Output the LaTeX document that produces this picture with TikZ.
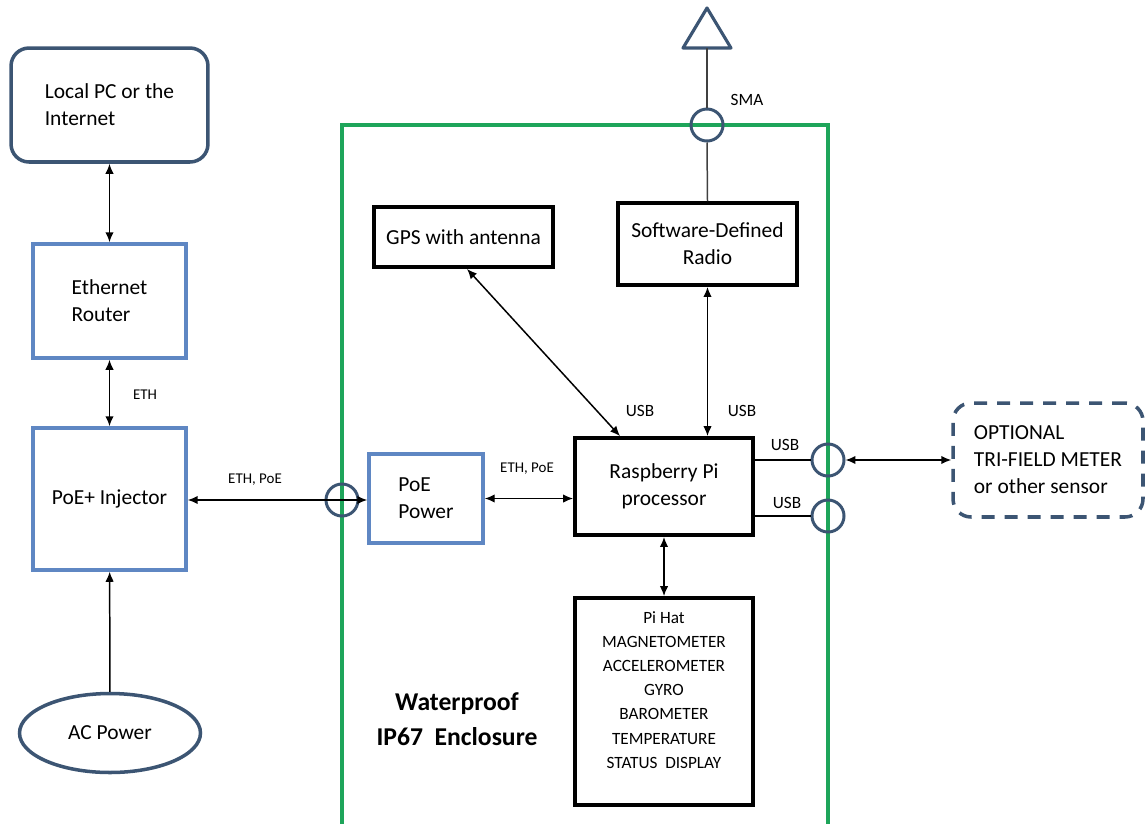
\documentclass[tikz,border=0pt]{standalone}
\usepackage{fontspec}
\setmainfont{Carlito}
\usetikzlibrary{arrows.meta,shapes.geometric}
\definecolor{encgreen}{RGB}{30,165,90}
\definecolor{boxblue}{RGB}{95,135,195}
\definecolor{portslate}{RGB}{60,85,115}

\begin{document}
\begin{tikzpicture}[x=0.02cm,y=-0.02cm,
  mainfont/.style={font=\fontsize{12.2}{15.4}\selectfont},
  bluebox/.style={draw=boxblue,line width=2pt,mainfont,align=left},
  blackbox/.style={draw=black,line width=2.2pt,mainfont,align=center},
  slatebox/.style={draw=portslate,line width=2pt,rounded corners=0.36cm,mainfont,align=left},
  port/.style={circle,draw=portslate,line width=1.7pt,minimum size=0.64cm,inner sep=0pt},
  dbl/.style={{Latex[length=2mm,width=1.7mm]}-{Latex[length=2mm,width=1.7mm]},line width=0.85pt},
  sgl/.style={-{Latex[length=2mm,width=1.7mm]},line width=0.85pt},
  ethtag/.style={font=\fontsize{8.5}{10}\selectfont},
  usbtag/.style={font=\fontsize{9.8}{12}\selectfont}]
  \useasboundingbox (0,0) rectangle (1146,823);

  % enclosure
  \draw[encgreen,line width=2.2pt] (342,840) -- (342,125) -- (828,125) -- (828,840);
  \node[font=\bfseries\fontsize{14.6}{20}\selectfont,align=center] (enclname) at (457,719) {Waterproof\\IP67\ \ Enclosure};

  % outside
  \node[slatebox,minimum width=3.94cm,minimum height=2.28cm] (pc) at (109.5,105) {Local PC or the\\Internet};
  \node[bluebox,minimum width=3.06cm,minimum height=2.28cm] (router) at (109.5,301) {Ethernet\\Router};
  \node[bluebox,minimum width=3.06cm,minimum height=2.84cm] (inj) at (109.5,499) {PoE+ Injector};
  \node[ellipse,draw=portslate,line width=2pt,mainfont,minimum width=3.62cm,minimum height=1.58cm] (ac) at (110,733) {AC Power};
  \node[slatebox,dash pattern=on 0.26cm off 0.2cm,minimum width=3.8cm,minimum height=2.28cm] (opt) at (1048,460) {OPTIONAL\\TRI-FIELD METER\\or other sensor};

  % inside
  \node[bluebox,minimum width=2.28cm,minimum height=1.78cm] (poe) at (426,498.5) {PoE\\Power};
  \node[blackbox,minimum width=3.58cm,minimum height=1.2cm] (gps) at (463.5,237) {GPS with antenna};
  \node[blackbox,minimum width=3.58cm,minimum height=1.64cm] (sdr) at (707.5,244) {Software-Defined\\Radio};
  \node[blackbox,minimum width=3.56cm,minimum height=1.94cm] (rpi) at (664,486.5) {Raspberry Pi\\processor};
  \node[blackbox,minimum width=3.56cm,minimum height=4.14cm] (hat) at (664,701.5) {};
  \node[align=center,font=\fontsize{9.8}{13.7}\selectfont] (hattext) at (664,690)
    {Pi Hat\\MAGNETOMETER\\ACCELEROMETER\\GYRO\\BAROMETER\\TEMPERATURE\\STATUS\ \ DISPLAY};

  % ports and antenna
  \node[port] (pL) at (342,500) {};
  \node[port] (pT) at (707,125) {};
  \foreach \n/\y in {1/460,2/516} {
    \node[port] (pU\n) at (828,\y) {};
    \draw[line width=0.85pt] (rpi.east |- pU\n) -- (pU\n.west);
  }
  \draw[portslate,line width=1.8pt,line join=round] (707,8) -- (731,48) -- (683,48) -- cycle;
  \coordinate (ant) at (707,48);
  \draw[black!75,line width=0.85pt] (ant) -- (pT.north);
  \draw[black!75,line width=0.85pt] (pT.south) -- (sdr.north);

  % connections
  \draw[dbl] (pc) -- (router);
  \draw[dbl] (router) -- (inj);
  \draw[sgl] (ac) -- (inj);
  \draw[sgl] (pL.east) -- (inj.east |- pL);
  \draw[sgl] (pL.east) -- (poe.west |- pL);
  \draw[dbl] (poe.east) -- (poe.east -| rpi.west);
  \draw[dbl] ([xshift=0.07cm]gps.south) -- ([xshift=-0.88cm]rpi.north);
  \draw[dbl] (sdr.south) -- (sdr.south |- rpi.north);
  \draw[dbl] (rpi) -- (hat);
  \draw[dbl] (pU1.east) -- (opt.west);

  % labels
  \node[ethtag] (lbeth) at (145,395) {ETH};
  \node[ethtag] (lbpoe1) at (255,480) {ETH, PoE};
  \node[ethtag] (lbpoe2) at (527,469) {ETH, PoE};
  \node[usbtag] (lbsma) at (747,100) {SMA};
  \node[usbtag] (lbusb1) at (640,411) {USB};
  \node[usbtag] (lbusb2) at (742,411) {USB};
  \node[usbtag] (lbusb3) at (785,445) {USB};
  \node[usbtag] (lbusb4) at (787,503) {USB};
\end{tikzpicture}
\end{document}
